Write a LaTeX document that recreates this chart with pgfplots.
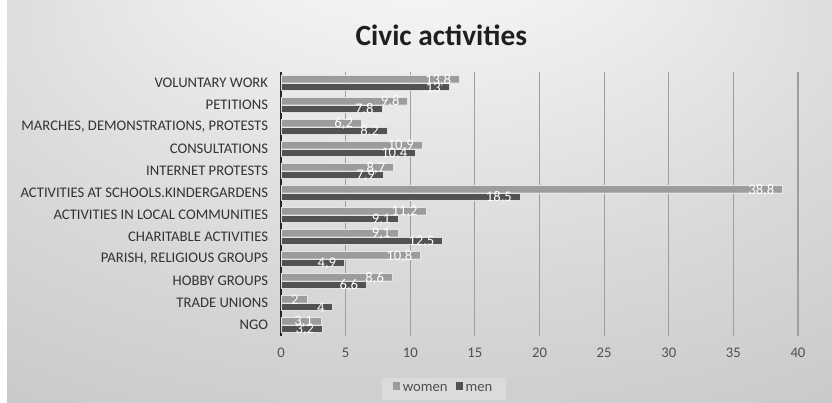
\documentclass[border=0pt]{standalone}
\usepackage{pgfplots}
\usepackage{pgfplotstable}
\pgfplotsset{compat=1.18}
\usepackage{fontspec}
\setmainfont{Carlito}
\definecolor{women}{HTML}{9C9C9C}
\definecolor{men}{HTML}{525252}
\definecolor{txt}{HTML}{333333}
\definecolor{ticktxt}{HTML}{505050}
\definecolor{gridc}{HTML}{9E9E9E}
\pgfdeclareradialshading{chartbg}{\pgfpoint{0bp}{42bp}}{color(0bp)=(white); color(10bp)=(white!95!black); color(28bp)=(white!85!black); color(50bp)=(white!75!black)}

\pgfplotstableread{
y women men
0  3.1  3.2
1  2    4
2  8.6  6.6
3  10.8 4.9
4  9.1  12.5
5  11.2 9.1
6  38.8 18.5
7  8.7  7.9
8  10.9 10.4
9  6.2  8.2
10 9.8  7.8
11 13.8 13
}\civicdata

\begin{document}
\begin{tikzpicture}
\useasboundingbox (0,0) rectangle (624pt,302.25pt);
\fill[white] (0,0) rectangle (624pt,302.25pt);
\shade[shading=chartbg] (5.25pt,0) rectangle (624pt,302.25pt);
\node[font=\bfseries\fontsize{22}{26}\selectfont, text=black!88] at (331pt,276pt) {Civic activities};
\begin{axis}[
  at={(210.75pt,50.25pt)}, anchor=south west,
  scale only axis, width=387.75pt, height=198pt,
  xbar=0.4pt, bar width=5.4pt,
  xmin=0, xmax=40, ymin=-0.5, ymax=11.5,
  xtick={0,5,...,40},
  ytick={0,...,11},
  yticklabels={NGO, TRADE UNIONS, HOBBY GROUPS, {PARISH, RELIGIOUS GROUPS}, CHARITABLE ACTIVITIES, ACTIVITIES IN LOCAL COMMUNITIES, ACTIVITIES AT SCHOOLS.KINDERGARDENS, INTERNET PROTESTS, CONSULTATIONS, {MARCHES, DEMONSTRATIONS, PROTESTS}, PETITIONS, VOLUNTARY WORK},
  axis line style={draw=none},
  major tick length=0pt,
  xmajorgrids, grid style={gridc, line width=0.9pt},
  extra x ticks={0}, extra x tick labels={},
  extra x tick style={grid style={black!85, line width=1.5pt}},
  /pgf/number format/assume math mode=true,
  /pgf/number format/use comma,
  xticklabel style={text=ticktxt, font=\fontsize{11}{13}\selectfont, inner sep=0pt, yshift=-9pt},
  yticklabel style={text=txt, font=\fontsize{11}{13}\selectfont, inner sep=0pt, xshift=-9.5pt},
  nodes near coords={\pgfmathprintnumber[fixed,precision=1,use comma]{\pgfplotspointmeta}},
  every node near coord/.append style={anchor=east, text=white, font=\fontsize{11}{13}\selectfont, inner sep=0pt, xshift=-6pt, yshift=-0.6pt},
  reverse legend,
  legend columns=2,
  legend style={at={(0.315,-0.2)}, anchor=center, draw=none, fill=white!86!black, text=ticktxt, font=\fontsize{11}{13}\selectfont, /tikz/every even column/.append style={column sep=4pt}, inner xsep=8pt, inner ysep=3pt},
  legend image code/.code={\fill[#1, draw=none] (0pt,-0.6pt) rectangle (5.6pt,5pt);},
]
\addplot[fill=men, draw=white!75!gray, line width=0.3pt] table[x=men, y=y] {\civicdata};
\addplot[fill=women, draw=white!80!gray, line width=0.3pt] table[x=women, y=y] {\civicdata};
\legend{men, women}
\end{axis}
\end{tikzpicture}
\end{document}
